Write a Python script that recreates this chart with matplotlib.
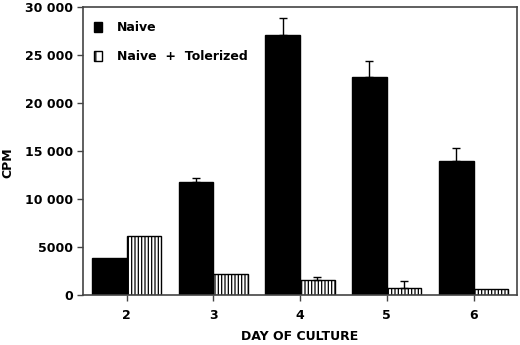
import matplotlib
matplotlib.use("Agg")
import numpy as np
import matplotlib.pyplot as plt
import matplotlib.patches as mpatches

plt.rcParams['font.family'] = 'DejaVu Sans'
plt.rcParams['font.weight'] = 'bold'
plt.rcParams['axes.labelweight'] = 'bold'
plt.rcParams['font.size'] = 9
plt.rcParams['hatch.linewidth'] = 0.9

days = [2, 3, 4, 5, 6]
naive = [3850, 11750, 27050, 22700, 13950]
naive_err = [0, 400, 1800, 1650, 1350]
tolerized = [6150, 2200, 1600, 750, 650]
tolerized_err = [0, 0, 280, 700, 0]

yticks = [0, 5000, 10000, 15000, 20000, 25000, 30000]
ytick_labels = ['0', '5000', '10 000', '15 000', '20 000', '25 000', '30 000']

fig = plt.figure(figsize=(5.2, 3.45), dpi=100)
ax = fig.add_axes([0.16, 0.145, 0.834, 0.835])

x = np.array(days)
w = 0.4
ax.bar(x - w / 2, naive, width=w, color='black', edgecolor='black')
ax.bar(x + w / 2, tolerized, width=w, color='white', edgecolor='black',
       hatch='|||||', linewidth=1)

# upward error bars only where there is an error
for xs, vals, errs in [(x - w / 2, naive, naive_err), (x + w / 2, tolerized, tolerized_err)]:
    for xi, v, e in zip(xs, vals, errs):
        if e > 0:
            ax.errorbar(xi, v, yerr=[[0], [e]], fmt='none', ecolor='black',
                        elinewidth=1, capsize=3, capthick=1)

ax.set_xlim(1.5, 6.5)
ax.set_ylim(0, 30000)
ax.set_xticks(days)
ax.set_yticks(yticks)
ax.set_yticklabels(ytick_labels)
ax.tick_params(direction='out', length=4, width=1, color='#444444')
ax.tick_params(axis='x', pad=6)
for s in ax.spines.values():
    s.set_color('#444444')
    s.set_linewidth(1.2)

ax.set_xlabel('DAY OF CULTURE', labelpad=6)
ax.set_ylabel('CPM')
ax.yaxis.set_label_coords(-0.158, 0.46)

handles = [mpatches.Patch(facecolor='black', edgecolor='black'),
           mpatches.Patch(facecolor='white', edgecolor='black', hatch='||')]
ax.legend(handles, ['Naive', 'Naive  +  Tolerized'], loc='upper left',
          frameon=False, handlelength=0.6, handleheight=0.9,
          handletextpad=1.2, labelspacing=1.3,
          bbox_to_anchor=(0.0, 0.99), borderaxespad=0.5)

fig.savefig('out.png', dpi=100)
